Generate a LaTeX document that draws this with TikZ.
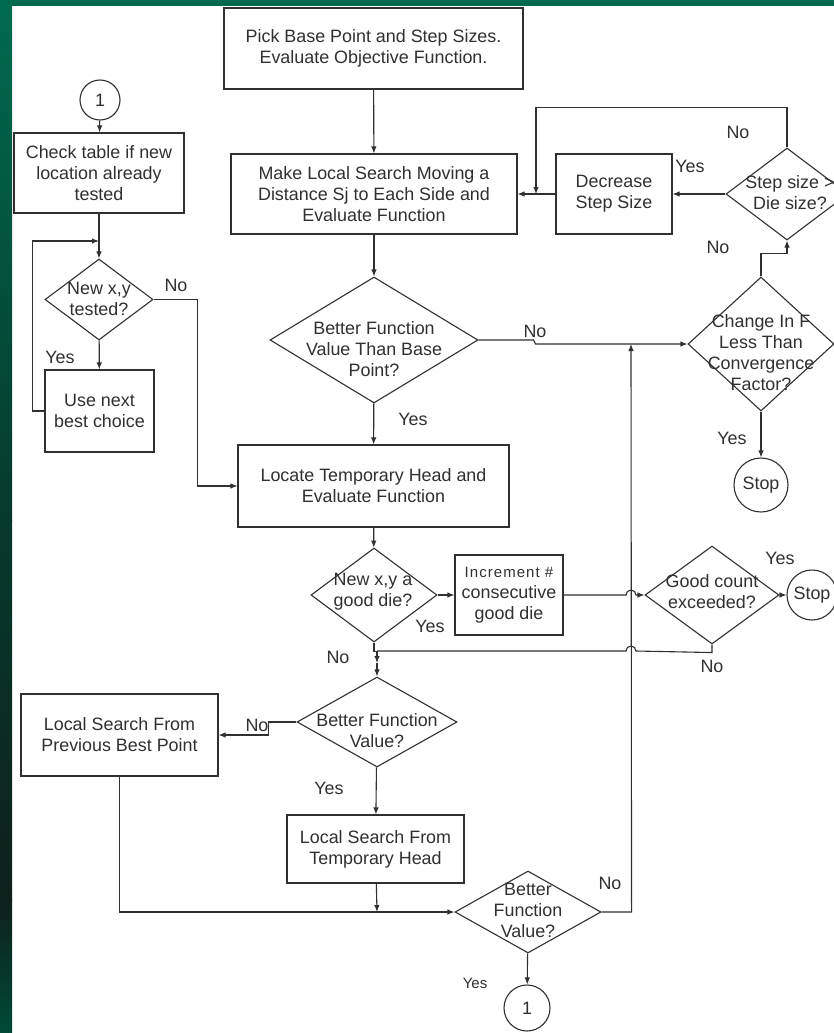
\documentclass[tikz,border=0pt]{standalone}
\usepackage{fontspec}
\setmainfont{Liberation Sans}
\usetikzlibrary{shapes.geometric,arrows.meta}
\definecolor{frame}{RGB}{0,106,78}
\definecolor{framedark}{RGB}{6,58,44}
\definecolor{framelow}{RGB}{14,32,27}
\definecolor{framebot}{RGB}{0,74,54}
\definecolor{ink}{RGB}{48,48,48}

\begin{document}
\begin{tikzpicture}[x=1pt, y=-1pt,
  font=\fontsize{17.9}{21}\selectfont, text=ink,
  line/.style={draw=ink, line width=1.1pt},
  arr/.style={line, -{Latex[length=7pt,width=5.5pt]}},
  box/.style={draw=ink, line width=1.1pt, rectangle, inner sep=0pt, align=center},
  dia/.style={draw=ink, line width=1.1pt, diamond, inner sep=0pt},
  circ/.style={draw=ink, line width=1.1pt, circle, inner sep=0pt},
  txt/.style={align=center, inner sep=0pt},
  lbl/.style={inner sep=0pt}]

\useasboundingbox (0,0) rectangle (834,1033);

% Frame
\fill [white] (0,0) rectangle (834,1033);
\fill [frame] (0,0) rectangle (834,6);
\shade [top color=frame, bottom color=framedark] (0,6) rectangle (12,520);
\shade [top color=framedark, bottom color=framelow] (0,520) rectangle (12,900);
\shade [top color=framelow, bottom color=framebot] (0,900) rectangle (12,1033);

% Main column
\node [box, minimum width=299pt, minimum height=81pt] (pick) at (373.5,48.5) {Pick Base Point and Step Sizes.\\Evaluate Objective Function.};
\node [box, minimum width=286pt, minimum height=80pt] (move) at (374,194) {Make Local Search Moving a\\Distance Sj to Each Side and\\Evaluate Function};
\node [box, minimum width=116pt, minimum height=80pt] (dec) at (614,194) {Decrease\\Step Size};
\node [dia, minimum width=122pt, minimum height=92pt] (stepq) at (787,194) {};
\node [txt] (stepq-t) at (790,193) {Step size >\\Die size?};

\node [dia, minimum width=146pt, minimum height=134pt] (conv) at (761,344) {};
\node [txt] (conv-t) at (761,353) {Change In F\\Less Than\\Convergence\\Factor?};
\node [circ, minimum size=54pt] (stopa) at (761,485) {Stop};

\node [dia, minimum width=208pt, minimum height=126pt] (better) at (374,340) {};
\node [txt] (better-t) at (374,349) {Better Function\\Value Than Base\\Point?};

\node [box, minimum width=271pt, minimum height=82pt] (head) at (373.5,486) {Locate Temporary Head and\\Evaluate Function};

\node [dia, minimum width=126pt, minimum height=94pt] (good) at (374,595) {};
\node [txt] (good-t) at (373,592) {New x,y a\\good die?};
\node [box, minimum width=108pt, minimum height=80pt] (incr) at (509,595) {{\fontsize{15}{17}\selectfont\addfontfeatures{LetterSpace=7}Increment \#}\\consecutive\\good die};
\node [dia, minimum width=134pt, minimum height=98pt] (count) at (712,595) {};
\node [txt] (count-t) at (712,592) {Good count\\exceeded?};
\node [circ, minimum size=50pt] (stopb) at (812,595) {Stop};

\node [dia, minimum width=160pt, minimum height=90pt] (better2) at (377,722) {};
\node [txt] (better2-t) at (377,731) {Better Function\\Value?};
\node [box, minimum width=197pt, minimum height=82pt] (prev) at (119.5,735) {Local Search From\\Previous Best Point};
\node [box, minimum width=177pt, minimum height=68pt] (temp) at (375.5,849) {Local Search From\\Temporary Head};

\node [dia, minimum width=146pt, minimum height=82pt] (better3) at (528,912) {};
\node [txt] (better3-t) at (528,910) {Better\\Function\\Value?};
\node [circ, minimum size=46pt] (conn-b) at (527,1008) {1};

% Left column
\node [circ, minimum size=40pt] (conn-a) at (100,100) {1};
\node [box, minimum width=170pt, minimum height=80pt] (check) at (99,173) {Check table if new\\location already\\tested};
\node [dia, minimum width=108pt, minimum height=81pt] (tested) at (99,299.5) {};
\node [txt] (tested-t) at (99,299) {New x,y\\tested?};
\node [box, minimum width=109pt, minimum height=82pt] (next) at (99.5,411) {Use next\\best choice};

% Joins
\coordinate (join) at (536,194);
\coordinate (rise) at (631,344);
\coordinate (merge) at (377,663);
\coordinate (inlet) at (377,651);
\coordinate (tee) at (377,912);
\coordinate (back) at (99,241);

% Connectors
\draw [arr] (pick) -- (move);
\draw [arr] (move) -- (better);
\draw [arr] (dec) -- (move);
\draw [arr] (stepq) -- (dec);
\draw [arr] (stepq.north) -- ++(0,-40) -| (join);
\draw [arr] (conv.north) -- ++(0,-23) -| (stepq.south);
\draw [arr] (better.east) -- ++(55,0) -- ++(2,4) -- (conv.west);
\draw [arr] (conv) -- (stopa);
\draw [arr] (better) -- (head);
\draw [arr] (head) -- (good);
\draw [arr] (good) -- (incr);
\draw [arr] (incr.east) -- (626,595) arc [start angle=180, end angle=0, radius=5pt] -- (count.west);
\draw [arr] (count) -- (stopb);
\draw [arr] (good.south) -- ++(0,9) -- ++(3,0) -- (merge);
\draw [arr] (merge) -- (better2.north);
\draw [line] (count.south) -- ++(0,8) -- (636,651) arc [start angle=0, end angle=180, radius=5pt] -- (inlet);
\draw [arr] (better2.west) -- ++(-28,0) |- (prev.east);
\draw [arr] (better2) -- (temp);
\draw [arr] (temp) -- (tee);
\draw [arr] (prev.south) |- (better3.west);
\draw [arr] (better3.east) -- ++(30,0) -- (rise);
\draw [arr] (better3) -- (conn-b);

\draw [arr] (conn-a) -- (check);
\draw [arr] (check) -- (tested);
\draw [arr] (next.west) -- ++(-12,0) |- (back);
\draw [arr] (tested) -- (next);
\draw [arr] (tested.east) -- ++(44,0) |- (head.west);

% Labels
\node [lbl] (l1) at (690,166) {Yes};
\node [lbl] (l2) at (738,132) {No};
\node [lbl] (l3) at (718,247) {No};
\node [lbl] (l4) at (535,331) {No};
\node [lbl] (l5) at (413,419) {Yes};
\node [lbl] (l6) at (732,438) {Yes};
\node [lbl] (l7) at (176,285) {No};
\node [lbl] (l8) at (60,357) {Yes};
\node [lbl] (l9) at (430,626) {Yes};
\node [lbl] (l10) at (338,657) {No};
\node [lbl] (l11) at (780,558) {Yes};
\node [lbl] (l12) at (712,666) {No};
\node [lbl] (l13) at (257,725) {No};
\node [lbl] (l14) at (329,788) {Yes};
\node [lbl] (l15) at (610,883) {No};
\node [lbl, font=\fontsize{15}{17}\selectfont] (l16) at (475,983) {Yes};
\end{tikzpicture}
\end{document}
